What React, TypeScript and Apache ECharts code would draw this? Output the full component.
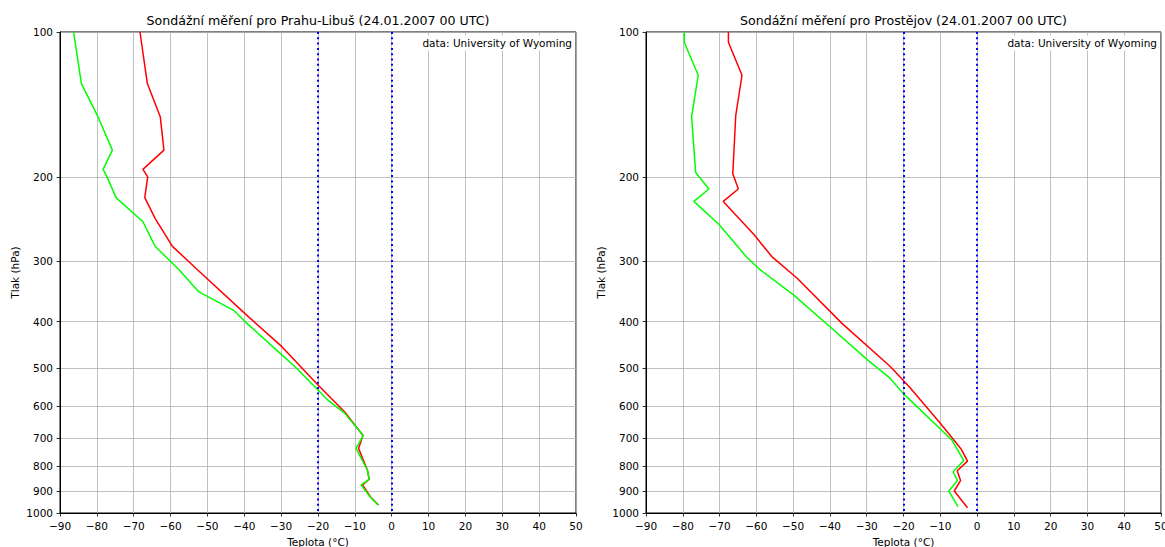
import React, { useEffect, useRef } from "react";
import * as echarts from "echarts";

// Pressure levels used for ticks / grid lines (hPa)
const P_TICKS = [100, 200, 300, 400, 500, 600, 700, 800, 900, 1000];

// Praha-Libuš: temperature profile
const PRAHA_T_P = [962, 925, 874, 851, 814, 734, 690, 616, 542, 451, 385, 312, 279, 244, 221, 200, 193, 176, 150, 128, 100];
const PRAHA_T = [-3.6, -5.8, -7.9, -6.1, -6.6, -9.0, -7.8, -12.8, -20.0, -29.8, -39.8, -52.7, -59.5, -64.2, -67.0, -66.2, -67.5, -61.8, -62.8, -66.3, -68.3];

// Praha-Libuš: dew point profile
const PRAHA_TD_P = [962, 925, 874, 851, 814, 734, 690, 620, 582, 555, 496, 469, 400, 379, 347, 312, 300, 279, 248, 221, 201, 193, 176, 150, 128, 100];
const PRAHA_TD = [-3.7, -5.9, -8.3, -6.1, -6.6, -9.7, -7.7, -12.8, -17.4, -20.0, -26.3, -29.8, -39.8, -42.9, -52.3, -57.7, -60.0, -64.2, -67.5, -74.8, -77.1, -78.3, -75.8, -79.7, -84.2, -86.3];

// Prostějov: temperature profile
const PROST_T_P = [975, 900, 856, 817, 780, 735, 651, 546, 496, 403, 325, 293, 264, 225, 212, 197, 149, 123, 105, 100];
const PROST_T = [-2.6, -6.2, -4.5, -5.4, -2.6, -4.4, -10.0, -18.5, -23.6, -36.8, -48.9, -55.8, -60.6, -69.0, -64.9, -66.4, -65.6, -63.9, -67.6, -67.6];

// Prostějov: dew point profile
const PROST_TD_P = [970, 900, 856, 821, 778, 706, 564, 525, 481, 410, 352, 312, 294, 251, 225, 212, 196, 150, 123, 105, 100];
const PROST_TD = [-5.2, -7.7, -5.3, -6.5, -3.6, -6.8, -20.1, -23.6, -29.7, -40.0, -49.9, -59.0, -62.6, -70.2, -77.0, -72.9, -76.5, -77.6, -75.8, -79.6, -79.6];

const TITLES = [
  "Sondážní měření pro Prahu-Libuš (24.01.2007 00 UTC)",
  "Sondážní měření pro Prostějov (24.01.2007 00 UTC)",
];
const SOURCE_NOTE = "data: University of Wyoming";
const ISOTHERMS = [-20, 0];

const FONT = "DejaVu Sans";
const W = 1165;
const H = 547;

// plot-area rectangles (left, right edge in px)
const PANELS = [
  { x0: 60, x1: 576 },
  { x0: 646, x1: 1161 },
];
const TOP = 32;
const BOTTOM = 513;

const pairs = (t: number[], p: number[]) => p.map((pv, i) => [t[i], pv]);

export default function App() {
  const ref = useRef<HTMLDivElement>(null);

  useEffect(() => {
    if (!ref.current) return;
    const chart = echarts.init(ref.current, null, { renderer: "svg" });

    const grid = PANELS.map((p) => ({
      left: p.x0,
      width: p.x1 - p.x0,
      top: TOP,
      height: BOTTOM - TOP,
      outerBoundsMode: "none",
      containLabel: false,
      show: true,
      borderColor: "#000",
      borderWidth: 1,
      backgroundColor: "transparent",
    }));

    const xAxis = PANELS.map((_, i) => ({
      type: "value",
      gridIndex: i,
      min: -90,
      max: 50,
      interval: 10,
      name: "Teplota (°C)",
      nameLocation: "middle",
      nameGap: 23,
      nameTextStyle: { fontFamily: FONT, fontSize: 10.5, color: "#000" },
      axisLine: { show: true, onZero: false, lineStyle: { color: "#000", width: 1 } },
      axisTick: { show: true, length: 3.5, lineStyle: { color: "#000", width: 0.8 } },
      axisLabel: {
        fontFamily: FONT,
        fontSize: 10.5,
        color: "#000",
        margin: 7,
        formatter: (v: number) => String(v).replace("-", "\u2212"),
      },
      splitLine: { show: true, lineStyle: { color: "#b0b0b0", width: 0.8 } },
    }));

    const yAxis = PANELS.map((_, i) => ({
      type: "log",
      logBase: 10,
      gridIndex: i,
      min: 100,
      max: 1000,
      inverse: true,
      name: "Tlak (hPa)",
      nameLocation: "middle",
      nameRotate: 90,
      nameGap: 40,
      nameTextStyle: { fontFamily: FONT, fontSize: 10.5, color: "#000" },
      axisLine: { show: true, onZero: false, lineStyle: { color: "#000", width: 1 } },
      axisTick: { show: true, length: 3.5, customValues: P_TICKS, lineStyle: { color: "#000", width: 0.8 } },
      axisLabel: {
        fontFamily: FONT,
        fontSize: 10.5,
        color: "#000",
        margin: 7,
        customValues: P_TICKS,
        formatter: (v: number) => String(Math.round(v)),
      },
      splitLine: { show: true, lineStyle: { color: "#b0b0b0", width: 0.8 } },
    }));

    const isothermLine = {
      silent: true,
      symbol: ["none", "none"],
      label: { show: false },
      lineStyle: { color: "#0000ff", width: 2, type: [2, 3.3] },
      data: ISOTHERMS.map((v) => ({ xAxis: v })),
    };

    const lineSeries = (data: number[][], color: string, idx: number, withMarks: boolean) => ({
      type: "line",
      xAxisIndex: idx,
      yAxisIndex: idx,
      data,
      symbol: "none",
      lineStyle: { color, width: 1.5 },
      itemStyle: { color },
      silent: true,
      clip: true,
      ...(withMarks ? { markLine: isothermLine } : {}),
    });

    const series = [
      lineSeries(pairs(PRAHA_T, PRAHA_T_P), "#ff0000", 0, true),
      lineSeries(pairs(PRAHA_TD, PRAHA_TD_P), "#00ff00", 0, false),
      lineSeries(pairs(PROST_T, PROST_T_P), "#ff0000", 1, true),
      lineSeries(pairs(PROST_TD, PROST_TD_P), "#00ff00", 1, false),
    ];

    const graphic: any[] = [];
    PANELS.forEach((p, i) => {
      graphic.push({
        type: "text",
        x: (p.x0 + p.x1) / 2,
        y: 20,
        style: {
          text: TITLES[i],
          align: "center",
          verticalAlign: "middle",
          fontFamily: FONT,
          fontSize: 12.6,
          fill: "#000",
        },
      });
      graphic.push({
        type: "text",
        x: p.x1 - 2,
        y: 43,
        z: 10,
        style: {
          text: SOURCE_NOTE,
          align: "right",
          verticalAlign: "middle",
          fontFamily: FONT,
          fontSize: 10.5,
          fill: "#000",
          backgroundColor: "#fff",
          padding: [2, 2, 2, 3],
        },
      });
    });

    chart.setOption({
      animation: false,
      backgroundColor: "#fff",
      grid,
      xAxis,
      yAxis,
      series,
      graphic,
    });

    return () => chart.dispose();
  }, []);

  return (
    <div
      ref={ref}
      style={{ position: "absolute", left: 0, top: 0, width: W, height: H }}
    />
  );
}
